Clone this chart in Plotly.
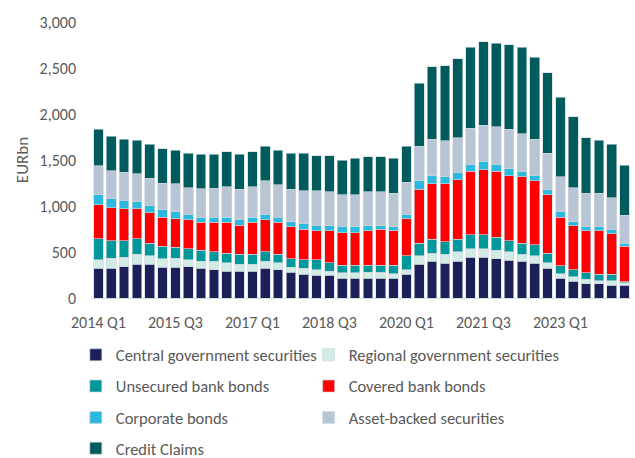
import plotly.graph_objects as go

# Quarterly periods, 2014 Q1 to 2024 Q2
quarters = [f"{y} Q{q}" for y in range(2014, 2025) for q in range(1, 5)][:42]
tick_labels = quarters[::6]

# Collateral put forward, EUR bn, by asset type
central_gov = [322, 322, 340, 365, 365, 336, 336, 340, 322, 307, 293, 293, 293, 322,
               307, 278, 260, 246, 246, 217, 217, 217, 217, 217, 260, 369, 398, 380,
               398, 441, 441, 427, 412, 398, 380, 322, 217, 184, 155, 155, 141, 141]
regional_gov = [94, 108, 105, 109, 94, 91, 94, 76, 79, 94, 90, 76, 76, 76,
                76, 58, 62, 61, 47, 58, 58, 61, 61, 47, 47, 90, 90, 94,
                104, 94, 94, 90, 90, 76, 79, 61, 47, 47, 47, 33, 47, 25]
unsecured = [227, 195, 180, 169, 137, 137, 123, 119, 120, 101, 105, 105, 105, 104,
             91, 91, 94, 109, 90, 79, 79, 76, 76, 90, 152, 137, 152, 137,
             138, 152, 152, 141, 123, 122, 119, 105, 87, 76, 73, 72, 72, 8]
covered = [373, 358, 347, 326, 329, 314, 307, 318, 303, 322, 336, 318, 350, 351,
           347, 350, 329, 314, 347, 358, 358, 376, 391, 376, 405, 586, 604, 633,
           647, 690, 708, 719, 705, 720, 694, 633, 527, 481, 455, 470, 441, 386]
corporate = [105, 94, 87, 79, 76, 80, 76, 51, 54, 54, 54, 61, 54, 51,
             57, 54, 61, 54, 54, 62, 62, 58, 43, 44, 43, 90, 86, 72,
             72, 73, 84, 73, 76, 61, 58, 54, 62, 43, 44, 44, 44, 33]
asset_backed = [318, 304, 307, 300, 300, 289, 308, 293, 308, 315, 333, 329, 333, 368,
                351, 351, 362, 384, 369, 347, 347, 365, 365, 365, 351, 380, 398, 394,
                383, 397, 397, 412, 427, 409, 398, 398, 379, 366, 365, 365, 347, 304]
credit_claims = [394, 379, 362, 366, 369, 373, 361, 379, 376, 369, 380, 380, 380, 380,
                 376, 394, 408, 379, 394, 379, 397, 380, 380, 379, 394, 680, 784, 817,
                 861, 879, 908, 907, 922, 940, 889, 878, 861, 773, 603, 575, 578, 545]

series = [
    ("Central government securities", central_gov, "#1b2058"),
    ("Regional government securities", regional_gov, "#d3ebe5"),
    ("Unsecured bank bonds", unsecured, "#00989a"),
    ("Covered bank bonds", covered, "#ff0000"),
    ("Corporate bonds", corporate, "#2bb9dd"),
    ("Asset-backed securities", asset_backed, "#b8c5d5"),
    ("Credit Claims", credit_claims, "#005b5c"),
]

FONT = "Carlito, Calibri, Lato, sans-serif"
GREY = "#595959"

# Two-column legend laid out below the plot, one legend box per entry
legend_pos = [(-0.030, -0.207), (0.402, -0.207),
              (-0.030, -0.320), (0.402, -0.320),
              (-0.030, -0.434), (0.402, -0.434),
              (-0.030, -0.545)]

fig = go.Figure()
layout_legends = {}
for i, (name, vals, color) in enumerate(series):
    key = "legend" if i == 0 else f"legend{i + 1}"
    fig.add_trace(go.Bar(
        x=quarters, y=vals, name=name,
        marker=dict(color=color, line=dict(color="rgba(205,214,222,0.9)", width=0.7)),
        legend=key,
    ))
    lx, ly = legend_pos[i]
    layout_legends[key] = dict(
        x=lx, y=ly, xanchor="left", yanchor="middle",
        orientation="h", bgcolor="rgba(0,0,0,0)",
        font=dict(family=FONT, size=16.5, color=GREY),
        itemwidth=30,
    )

fig.update_layout(
    barmode="stack",
    bargap=0.25,
    width=635, height=458,
    margin=dict(l=92, r=4, t=22, b=160, autoexpand=False),
    paper_bgcolor="white", plot_bgcolor="white",
    font=dict(family=FONT, size=16, color=GREY),
    showlegend=True,
    **layout_legends,
)

fig.update_xaxes(
    type="category",
    tickmode="array", tickvals=tick_labels, ticktext=tick_labels,
    showgrid=False, showline=True, linecolor="#d9d9d9", linewidth=1,
    ticks="", ticklabelstandoff=10,
    tickfont=dict(family=FONT, size=16, color=GREY),
)
fig.update_yaxes(
    range=[0, 3000], dtick=500, tickformat=",",
    showgrid=False, showline=False, zeroline=False,
    ticks="", ticklabelstandoff=15,
    tickfont=dict(family=FONT, size=16, color=GREY),
    title=dict(text="EURbn", font=dict(family=FONT, size=17, color=GREY), standoff=6),
)

fig.write_html("out.html")
